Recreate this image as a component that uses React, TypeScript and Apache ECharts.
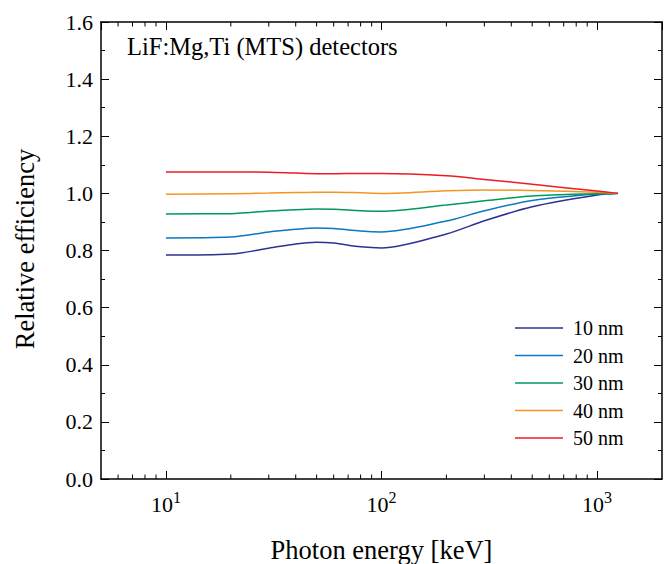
import React, { useEffect, useRef } from "react";
import * as echarts from "echarts";

// Photon energies (keV)
const energies = [10, 20, 30, 40, 50, 60, 80, 100, 200, 300, 500, 1000, 1250];
const seriesNames = ["10 nm", "20 nm", "30 nm", "40 nm", "50 nm"];
const eff10nm = [0.784, 0.788, 0.808, 0.823, 0.829, 0.826, 0.813, 0.809, 0.858, 0.904, 0.953, 0.994, 1.0];
const eff20nm = [0.844, 0.847, 0.865, 0.874, 0.879, 0.877, 0.868, 0.865, 0.903, 0.939, 0.975, 0.998, 1.0];
const eff30nm = [0.928, 0.929, 0.938, 0.943, 0.945, 0.944, 0.939, 0.937, 0.959, 0.974, 0.991, 0.999, 1.0];
const eff40nm = [0.997, 0.999, 1.001, 1.003, 1.004, 1.004, 1.002, 1.0, 1.009, 1.012, 1.01, 1.004, 1.0];
const eff50nm = [1.075, 1.075, 1.074, 1.071, 1.069, 1.069, 1.07, 1.07, 1.062, 1.049, 1.032, 1.008, 1.0];
const seriesColors = ["#2E3192", "#0A78C2", "#00995A", "#F7941D", "#ED1C24"];
const minorTickValues = [6, 7, 8, 9, 20, 30, 40, 50, 60, 70, 80, 90, 200, 300, 400, 500, 600, 700, 800, 900];

const titleText = "LiF:Mg,Ti (MTS) detectors";
const xTitle = "Photon energy [keV]";
const yTitle = "Relative efficiency";

const FONT = "Liberation Serif";

export default function App() {
  const ref = useRef<HTMLDivElement>(null);
  useEffect(() => {
    if (!ref.current) return;
    const chart = echarts.init(ref.current, null, { renderer: "svg" });
    const allVals = [eff10nm, eff20nm, eff30nm, eff40nm, eff50nm];
    const axisLine = { show: true, onZero: false, lineStyle: { color: "#000", width: 1.5 } };
    const tickStyle = { color: "#000", width: 1 };
    const lineSeries = allVals.map((vals, k) => ({
      name: seriesNames[k],
      type: "line",
      xAxisIndex: 0,
      yAxisIndex: 0,
      data: energies.map((e, i) => [e, vals[i]]),
      symbol: "none",
      showSymbol: false,
      smooth: 0.3,
      lineStyle: { width: 1.5, color: seriesColors[k] },
      itemStyle: { color: seriesColors[k] },
      z: 3,
    }));
    const option: any = {
      animation: false,
      backgroundColor: "#fff",
      textStyle: { fontFamily: FONT },
      grid: { left: 101, top: 22, right: 2, bottom: 85, containLabel: false },
      xAxis: [
        {
          type: "log",
          logBase: 10,
          min: 5,
          max: 2000,
          position: "bottom",
          axisLine,
          axisTick: { show: true, inside: true, length: 8, lineStyle: tickStyle },
          axisLabel: {
            showMinLabel: false,
            showMaxLabel: false,
            margin: 12,
            fontFamily: FONT,
            formatter: (v: number) => `{b|10}{s|${Math.round(Math.log10(v))}}`,
            rich: {
              b: { fontSize: 22, fontFamily: FONT, color: "#000", verticalAlign: "bottom", lineHeight: 24 },
              s: { fontSize: 16, fontFamily: FONT, color: "#000", verticalAlign: "bottom", lineHeight: 16, padding: [0, 0, 10, 0] },
            },
          },
          splitLine: { show: false },
        },
        {
          type: "log",
          logBase: 10,
          min: 5,
          max: 2000,
          position: "top",
          axisLine,
          axisTick: { show: true, inside: true, length: 8, lineStyle: tickStyle },
          axisLabel: { show: false },
          splitLine: { show: false },
        },
      ],
      yAxis: [
        {
          type: "value",
          min: 0,
          max: 1.6,
          interval: 0.2,
          position: "left",
          axisLine,
          axisTick: { show: true, inside: true, length: 8, lineStyle: tickStyle },
          minorTick: { show: true, splitNumber: 2, length: 4, lineStyle: tickStyle },
          axisLabel: {
            formatter: (v: number) => v.toFixed(1),
            fontSize: 22,
            fontFamily: FONT,
            color: "#000",
            margin: 8,
          },
          splitLine: { show: false },
          minorSplitLine: { show: false },
        },
        {
          type: "value",
          min: 0,
          max: 1.6,
          interval: 0.2,
          position: "right",
          axisLine,
          axisTick: { show: true, inside: true, length: 8, lineStyle: tickStyle },
          minorTick: { show: true, splitNumber: 2, length: 4, lineStyle: tickStyle },
          axisLabel: { show: false },
          splitLine: { show: false },
          minorSplitLine: { show: false },
        },
      ],
      legend: {
        data: seriesNames,
        orient: "vertical",
        left: 510,
        top: 313,
        icon: "rect",
        itemWidth: 48,
        itemHeight: 1.5,
        itemGap: 7.5,
        textStyle: { fontSize: 20, fontFamily: FONT, color: "#000", lineHeight: 20, padding: [0, 0, 0, 5] },
      },
      graphic: [
        {
          type: "text",
          x: 127,
          y: 46,
          style: { text: titleText, font: `24.5px ${FONT}`, fill: "#000", align: "left", verticalAlign: "middle" },
        },
        {
          type: "text",
          x: 381.5,
          y: 550,
          style: { text: xTitle, font: `26.5px ${FONT}`, fill: "#000", align: "center", verticalAlign: "middle" },
        },
        {
          type: "text",
          x: 25,
          y: 249,
          rotation: Math.PI / 2,
          style: { text: yTitle, font: `26.5px ${FONT}`, fill: "#000", align: "center", verticalAlign: "middle" },
        },
      ],
      series: [
        ...lineSeries,
        {
          type: "custom",
          xAxisIndex: 0,
          yAxisIndex: 0,
          silent: true,
          clip: false,
          data: minorTickValues.map((v) => [v, 0]),
          encode: { x: 0, y: 1 },
          renderItem: (params: any, api: any) => {
            const v = api.value(0);
            const b = api.coord([v, 0]);
            const t = api.coord([v, 1.6]);
            return {
              type: "group",
              children: [
                { type: "line", shape: { x1: b[0], y1: b[1], x2: b[0], y2: b[1] - 4.5 }, style: { stroke: "#000", lineWidth: 1 } },
                { type: "line", shape: { x1: t[0], y1: t[1], x2: t[0], y2: t[1] + 4.5 }, style: { stroke: "#000", lineWidth: 1 } },
              ],
            };
          },
        },
      ],
    };
    chart.setOption(option);
    return () => chart.dispose();
  }, []);
  return <div ref={ref} style={{ position: "fixed", left: 0, top: 0, width: 664, height: 564 }} />;
}
